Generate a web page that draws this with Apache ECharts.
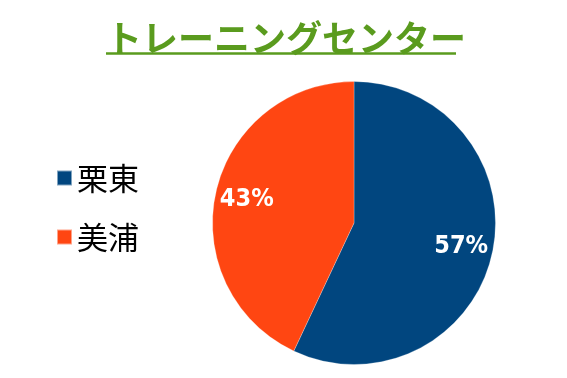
<!DOCTYPE html>
<html><head><meta charset="utf-8">
<script src="https://cdn.jsdelivr.net/npm/echarts@6/dist/echarts.min.js"></script>
<style>html,body{margin:0;padding:0;background:#fff}#c{width:567px;height:378px}</style>
</head><body><div id="c"></div>
<script>
const titleText = 'トレーニングセンター';
const categories = ['栗東', '美浦'];
const values = [57, 43];
const colors = ['#01467F', '#FF4612'];

const cx = 354, cy = 223, R = 141.5;
const chart = echarts.init(document.getElementById('c'), null, {renderer: 'canvas'});
chart.setOption({
  backgroundColor: '#fff',
  animation: false,
  title: {
    text: titleText, left: 281, textAlign: 'center', top: 15,
    textStyle: {fontFamily: 'Noto Sans CJK JP', fontWeight: 'bold', fontSize: 36, color: '#5A9B1E'}
  },
  graphic: [{
    type: 'line', shape: {x1: 106, y1: 53.5, x2: 456, y2: 53.5},
    style: {stroke: '#5A9B1E', lineWidth: 2.5}
  }],
  legend: {
    orient: 'vertical', left: 56, top: 162, padding: 0,
    itemWidth: 15, itemHeight: 15, itemGap: 27, icon: 'rect',
    textStyle: {fontFamily: 'Noto Sans CJK JP', fontSize: 31, color: '#000', lineHeight: 32},
    data: categories
  },
  series: [{
    type: 'pie',
    center: [cx, cy], radius: [0, R],
    startAngle: 90, clockwise: true,
    color: colors,
    itemStyle: {borderColor: 'rgba(255,255,255,0.5)', borderWidth: 0.5},
    label: {
      show: true, position: 'inside',
      formatter: p => p.value + '%',
      fontFamily: '"DejaVu Sans Condensed", "DejaVu Sans", sans-serif', fontWeight: 'bold', fontSize: 25, color: '#fff'
    },
    labelLayout: function (p) {
      const lx = p.labelRect.x + p.labelRect.width / 2;
      const ly = p.labelRect.y + p.labelRect.height / 2;
      const k = 0.745 / 0.5 - 1;
      return {dx: (lx - cx) * k, dy: (ly - cy) * k};
    },
    emphasis: {disabled: true},
    data: categories.map((n, i) => ({name: n, value: values[i]}))
  }]
});
</script></body></html>
